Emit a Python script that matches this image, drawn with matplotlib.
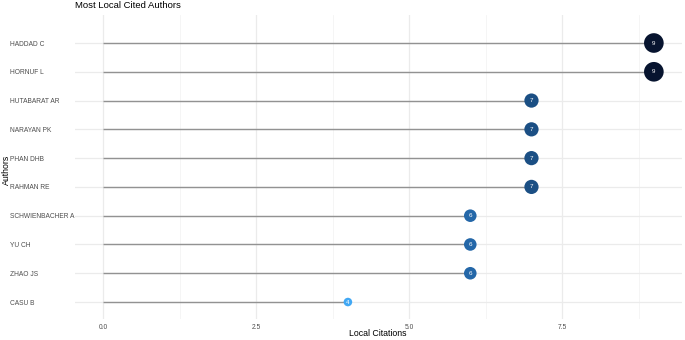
import matplotlib.pyplot as plt
import numpy as np

plt.rcParams['font.family'] = ['Liberation Sans', 'DejaVu Sans']

authors = ["HADDAD C", "HORNUF L", "HUTABARAT AR", "NARAYAN PK", "PHAN DHB",
           "RAHMAN RE", "SCHWIENBACHER A", "YU CH", "ZHAO JS", "CASU B"]
citations = [9, 9, 7, 7, 7, 7, 6, 6, 6, 4]

# colour / size per citation value (dark = more)
colors = {9: "#07142f", 7: "#1b4f84", 6: "#2467a8", 4: "#41a8f4"}
sizes = {9: 200, 7: 105, 6: 82, 4: 38}

fig = plt.figure(figsize=(6.85, 3.4), dpi=100)
ax = fig.add_axes([75 / 685, 20.7 / 340, 607 / 685, 304.5 / 340])

n = len(authors)
y = np.arange(n)[::-1]

# grid
for xv in [0, 2.5, 5, 7.5]:
    ax.axvline(xv, color="#ebebeb", lw=0.9, zorder=0)
for xv in [1.25, 3.75, 6.25, 8.75]:
    ax.axvline(xv, color="#f4f4f4", lw=0.6, zorder=0)
for yv in y:
    ax.axhline(yv, color="#ebebeb", lw=0.9, zorder=0)

ax.hlines(y, 0, citations, color="#929292", lw=1.0, zorder=1)
ax.scatter(citations, y, s=[sizes[c] for c in citations],
           c=[colors[c] for c in citations], zorder=2, linewidths=0)
for xv, yv in zip(citations, y):
    ax.text(xv, yv, str(xv), color="white", fontsize=4.5, ha="center",
            va="center", zorder=3)

ax.set_xlim(-0.46, 9.46)
ax.set_ylim(-0.6, 9.98)
ax.set_xticks([0, 2.5, 5, 7.5])
ax.set_xticklabels(["0.0", "2.5", "5.0", "7.5"])
ax.set_yticks(y)
ax.set_yticklabels(authors, ha="left")
ax.tick_params(axis="both", length=0, labelsize=4.8, labelcolor="#4d4d4d")
ax.tick_params(axis="y", pad=46.8)
ax.tick_params(axis="x", pad=3.5)
for s in ax.spines.values():
    s.set_visible(False)

fig.text(378 / 685, 1 - 334 / 340, "Local Citations", fontsize=6.3,
         ha="center", va="center")
fig.text(2 / 685, 0.5, "Authors", rotation=90, fontsize=6.3,
         ha="left", va="center")
fig.text(75 / 685, 1 - 6 / 340, "Most Local Cited Authors", fontsize=6.8,
         ha="left", va="center")

plt.savefig("out.png", dpi=100)
